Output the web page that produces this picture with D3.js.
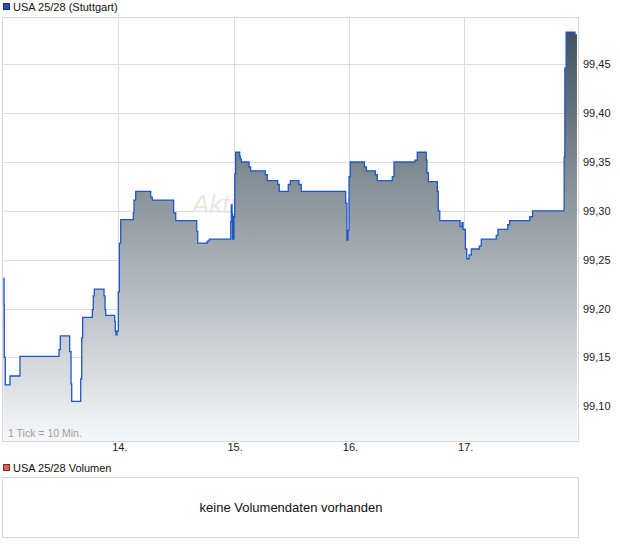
<!DOCTYPE html>
<html>
<head>
<meta charset="utf-8">
<script src="https://cdn.jsdelivr.net/npm/d3@7"></script>
<style>
  html, body { margin: 0; padding: 0; background: #fff; }
  svg { display: block; font-family: "Liberation Sans", Arial, sans-serif; }
</style>
</head>
<body>
<svg id="chart" width="620" height="546"></svg>
<script>
// ---- data (day of month as fractional number, price) ----
const seriesName = "USA 25/28 (Stuttgart)";
const volumeName = "USA 25/28 Volumen";
const noVolumeText = "keine Volumendaten vorhanden";
const tickNote = "1 Tick = 10 Min.";
const xTickDays = [14, 15, 16, 17];
const yTickValues = [99.10, 99.15, 99.20, 99.25, 99.30, 99.35, 99.40, 99.45];

const times = [
  13.003, 13.009, 13.011, 13.020, 13.061, 13.147, 13.486, 13.497, 13.578, 13.590,
  13.596, 13.674, 13.683, 13.691, 13.775, 13.783, 13.792, 13.876, 13.885, 13.891,
  13.969, 13.974, 13.980, 13.989, 14.000, 14.009, 14.021, 14.130, 14.136, 14.151,
  14.281, 14.295, 14.480, 14.498, 14.680, 14.689, 14.772, 14.789, 14.975, 14.980,
  14.986, 14.992, 15.003, 15.010, 15.018, 15.053, 15.058, 15.067, 15.134, 15.148,
  15.275, 15.292, 15.382, 15.396, 15.474, 15.492, 15.567, 15.587, 15.972, 15.983,
  15.992, 16.001, 16.012, 16.134, 16.151, 16.229, 16.246, 16.376, 16.391, 16.573,
  16.593, 16.671, 16.677, 16.689, 16.767, 16.775, 16.788, 16.964, 16.981, 16.990,
  17.010, 17.022, 17.042, 17.062, 17.131, 17.148, 17.278, 17.293, 17.377, 17.394,
  17.569, 17.593, 17.867, 17.873, 17.884, 17.961, 17.978
];
const prices = [
  99.231, 99.204, 99.150, 99.122, 99.131, 99.151, 99.158, 99.172, 99.156, 99.123,
  99.105, 99.128, 99.170, 99.191, 99.199, 99.213, 99.220, 99.213, 99.199, 99.193,
  99.187, 99.177, 99.173, 99.177, 99.217, 99.267, 99.291, 99.298, 99.311, 99.320,
  99.314, 99.311, 99.298, 99.290, 99.279, 99.267, 99.269, 99.271, 99.289, 99.306,
  99.297, 99.271, 99.294, 99.338, 99.360, 99.356, 99.353, 99.350, 99.345, 99.341,
  99.337, 99.331, 99.327, 99.320, 99.327, 99.331, 99.327, 99.320, 99.308, 99.270,
  99.280, 99.335, 99.350, 99.345, 99.341, 99.337, 99.331, 99.335, 99.350, 99.352,
  99.360, 99.352, 99.339, 99.330, 99.320, 99.300, 99.290, 99.284, 99.288, 99.281,
  99.261, 99.251, 99.255, 99.261, 99.264, 99.271, 99.275, 99.281, 99.286, 99.290,
  99.294, 99.300, 99.355, 99.446, 99.483, 99.480, 99.480
];

const data = times.map((t, i) => ({ t, v: prices[i] }));

// ---- layout ----
const plot = { left: 2.5, right: 578.5, top: 17.5, bottom: 441.5 };
const svg = d3.select("#chart");

const x = d3.scaleLinear().domain([13, 18]).range([3, 579.5]);
const y = d3.scaleLinear().domain([99.10, 99.45]).range([406.3, 64.3]);

// legend top
svg.append("rect").attr("x", 3.5).attr("y", 3.5).attr("width", 6).attr("height", 6)
  .attr("fill", "#1f55b8").attr("stroke", "#1a2f6a").attr("stroke-width", 1);
svg.append("text").attr("x", 13).attr("y", 11).attr("font-size", 11).attr("fill", "#111")
  .text(seriesName);

// clip
svg.append("defs").append("clipPath").attr("id", "clip")
  .append("rect").attr("x", plot.left).attr("y", plot.top)
  .attr("width", plot.right - plot.left).attr("height", plot.bottom - plot.top);

const grad = svg.select("defs").append("linearGradient").attr("id", "fillGrad")
  .attr("gradientUnits", "userSpaceOnUse").attr("x1", 0).attr("y1", 30).attr("x2", 0).attr("y2", 441);
grad.append("stop").attr("offset", 0).attr("stop-color", "#43525c");
grad.append("stop").attr("offset", 1).attr("stop-color", "#f6f7f9");

const g = svg.append("g");

// grid
g.selectAll(".hgrid").data(yTickValues).join("line")
  .attr("x1", plot.left).attr("x2", plot.right)
  .attr("y1", d => Math.round(y(d)) + 0.5).attr("y2", d => Math.round(y(d)) + 0.5)
  .attr("stroke", "#dddddd").attr("stroke-width", 1);
g.selectAll(".vgrid").data(xTickDays).join("line")
  .attr("x1", d => Math.round(x(d)) + 0.5).attr("x2", d => Math.round(x(d)) + 0.5)
  .attr("y1", plot.top).attr("y2", plot.bottom)
  .attr("stroke", "#dddddd").attr("stroke-width", 1);

// watermark
g.append("text").attr("x", 192).attr("y", 213).attr("font-size", 26)
  .attr("font-style", "italic").attr("fill", "#ebe7e3").text("Aktiencheck.de");

// area + line
const area = d3.area().curve(d3.curveStepAfter)
  .x(d => x(d.t)).y0(plot.bottom).y1(d => y(d.v));
const line = d3.line().curve(d3.curveStepAfter)
  .x(d => x(d.t)).y(d => y(d.v));

const clipped = g.append("g").attr("clip-path", "url(#clip)");
clipped.append("path").datum(data).attr("d", area).attr("fill", "url(#fillGrad)");
clipped.append("path").datum(data).attr("d", line).attr("fill", "none")
  .attr("stroke", "#1b57c9").attr("stroke-width", 1.3);

// border
g.append("rect").attr("x", plot.left).attr("y", plot.top)
  .attr("width", plot.right - plot.left).attr("height", plot.bottom - plot.top)
  .attr("fill", "none").attr("stroke", "#d6d6d6");

// y axis labels
const yAxis = d3.axisRight(y).tickValues(yTickValues).tickSize(0).tickPadding(0)
  .tickFormat(d => d3.format(".2f")(d).replace(".", ","));
const ya = svg.append("g").attr("transform", "translate(583,0)").call(yAxis);
ya.select(".domain").remove();
ya.selectAll("text").attr("font-size", 11).attr("fill", "#222")
  .attr("font-family", "Liberation Sans, Arial, sans-serif");

// x axis labels
const xAxis = d3.axisBottom(x).tickValues(xTickDays).tickSize(0).tickPadding(0)
  .tickFormat(d => d + ".");
const xa = svg.append("g").attr("transform", "translate(1,443)").call(xAxis);
xa.select(".domain").remove();
xa.selectAll("text").attr("font-size", 11).attr("fill", "#222")
  .attr("font-family", "Liberation Sans, Arial, sans-serif");

// tick note
svg.append("text").attr("x", 8).attr("y", 437).attr("font-size", 10.5).attr("fill", "#a0a0a0")
  .text(tickNote);

// volume panel
svg.append("rect").attr("x", 3.5).attr("y", 464.5).attr("width", 6).attr("height", 6)
  .attr("fill", "#d9615c").attr("stroke", "#7a2a28").attr("stroke-width", 1);
svg.append("text").attr("x", 13).attr("y", 472).attr("font-size", 11).attr("fill", "#111")
  .text(volumeName);
svg.append("rect").attr("x", 2.5).attr("y", 477.5).attr("width", 576).attr("height", 60)
  .attr("fill", "#fff").attr("stroke", "#d6d6d6");
svg.append("text").attr("x", 291).attr("y", 512).attr("text-anchor", "middle")
  .attr("font-size", 13).attr("fill", "#111").text(noVolumeText);
</script>
</body>
</html>
